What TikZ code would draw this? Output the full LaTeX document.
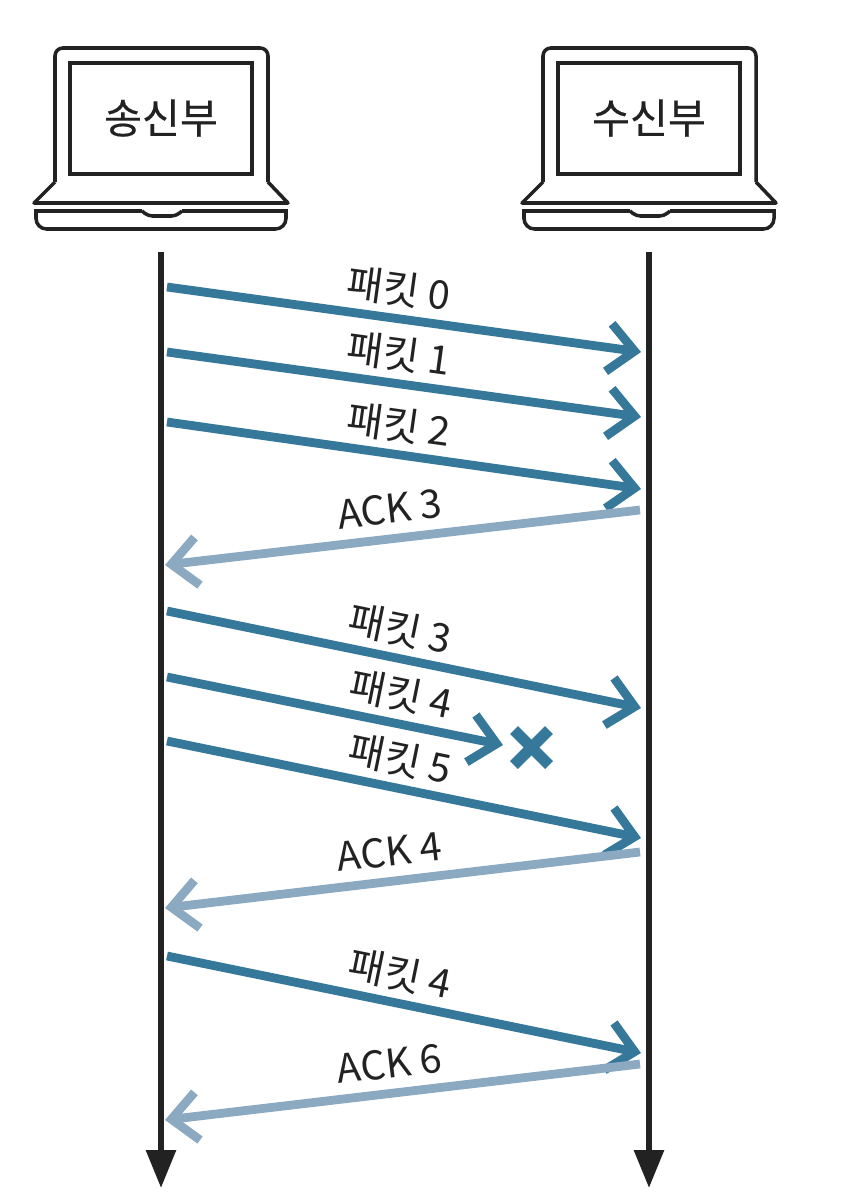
\documentclass[tikz,border=0pt]{standalone}
\usepackage{fontspec}
\setmainfont{Noto Sans CJK KR}
\newfontfamily\hostfont[FakeBold=0.4]{Noto Sans CJK KR}
\usetikzlibrary{arrows.meta}
\definecolor{packetblue}{HTML}{35789A}
\definecolor{ackblue}{HTML}{8CA9C2}
\definecolor{inkblack}{HTML}{222222}
\tikzset{
  timeline/.style={line width=3.4pt,inkblack,-{Triangle[length=0.76cm,width=0.58cm]}},
  packet/.style={line width=5pt,packetblue,-{Straight Barb[length=0.52cm,width=0.96cm]}},
  ack/.style={line width=5pt,ackblue,-{Straight Barb[length=0.52cm,width=0.96cm]}},
  lost/.style={line width=6.4pt,packetblue},
  outline/.style={line width=2pt,inkblack},
  msglabel/.style={pos=.48,above,sloped,font=\fontsize{22.5}{22.5}\selectfont,inkblack,inner sep=4pt},
  hostlabel/.style={font=\hostfont\fontsize{23.5}{23.5}\selectfont,inkblack}
}
\begin{document}
\begin{tikzpicture}[x=0.02cm,y=-0.02cm]
  \useasboundingbox (0,0) rectangle (842,1204);
  \foreach \dx/\host/\txt in {0/send/송신부,488/recv/수신부} {
    \begin{scope}[shift={(\dx,0)}]
      \draw[outline,rounded corners=4.5pt] (55,182) -- (55,48) -- (268,48) -- (268,182);
      \draw[outline] (70,63) rectangle (252,174);
      \draw[outline,line join=round] (55,182) -- (34,203) -- (288,203) -- (268,182);
      \draw[outline] (142,211) -- (36,211) [rounded corners=6pt] -- (36,229) -- (286,229) [sharp corners] -- (286,211) -- (182,211);
      \draw[outline,rounded corners=2.5pt] (142,211) -- (148,216) -- (176,216) -- (182,211);
      \node[hostlabel] (\host) at (161,118) {\txt};
    \end{scope}
  }
  \coordinate (sendtop) at (161,252);
  \coordinate (sendend) at (161,1188);
  \coordinate (recvtop) at (649,252);
  \coordinate (recvend) at (649,1188);
  \draw[timeline] (sendtop) -- (sendend);
  \draw[timeline] (recvtop) -- (recvend);
  \foreach \name/\ya/\yb/\txt in {p0/287/352/패킷 0,p1/352/417/패킷 1,p2/422/489/패킷 2,p3/611/708/패킷 3,p5/741/838/패킷 5,p6/956/1053/패킷 4} {
    \coordinate (\name a) at (167,\ya);
    \coordinate (\name b) at (641,\yb);
    \draw[packet] (\name a) -- (\name b) node[msglabel] (\name l) {\txt};
  }
  \coordinate (p4a) at (167,677);
  \coordinate (p4b) at (503,745);
  \draw[packet] (p4a) -- (p4b) node[msglabel,pos=.68] (p4l) {패킷 4};
  \foreach \name/\ya/\yb/\txt in {a3/510/565/ACK 3,a4/852/908/ACK 4,a6/1064/1120/ACK 6} {
    \coordinate (\name a) at (640,\ya);
    \coordinate (\name b) at (165,\yb);
    \draw[ack] (\name a) -- (\name b) node[msglabel,pos=.52,inner sep=6pt] (\name l) {\txt};
  }
  \coordinate (xa) at (514,730);
  \coordinate (xb) at (549,765);
  \coordinate (xc) at (549,730);
  \coordinate (xd) at (514,765);
  \draw[lost] (xa) -- (xb);
  \draw[lost] (xc) -- (xd);
\end{tikzpicture}
\end{document}
